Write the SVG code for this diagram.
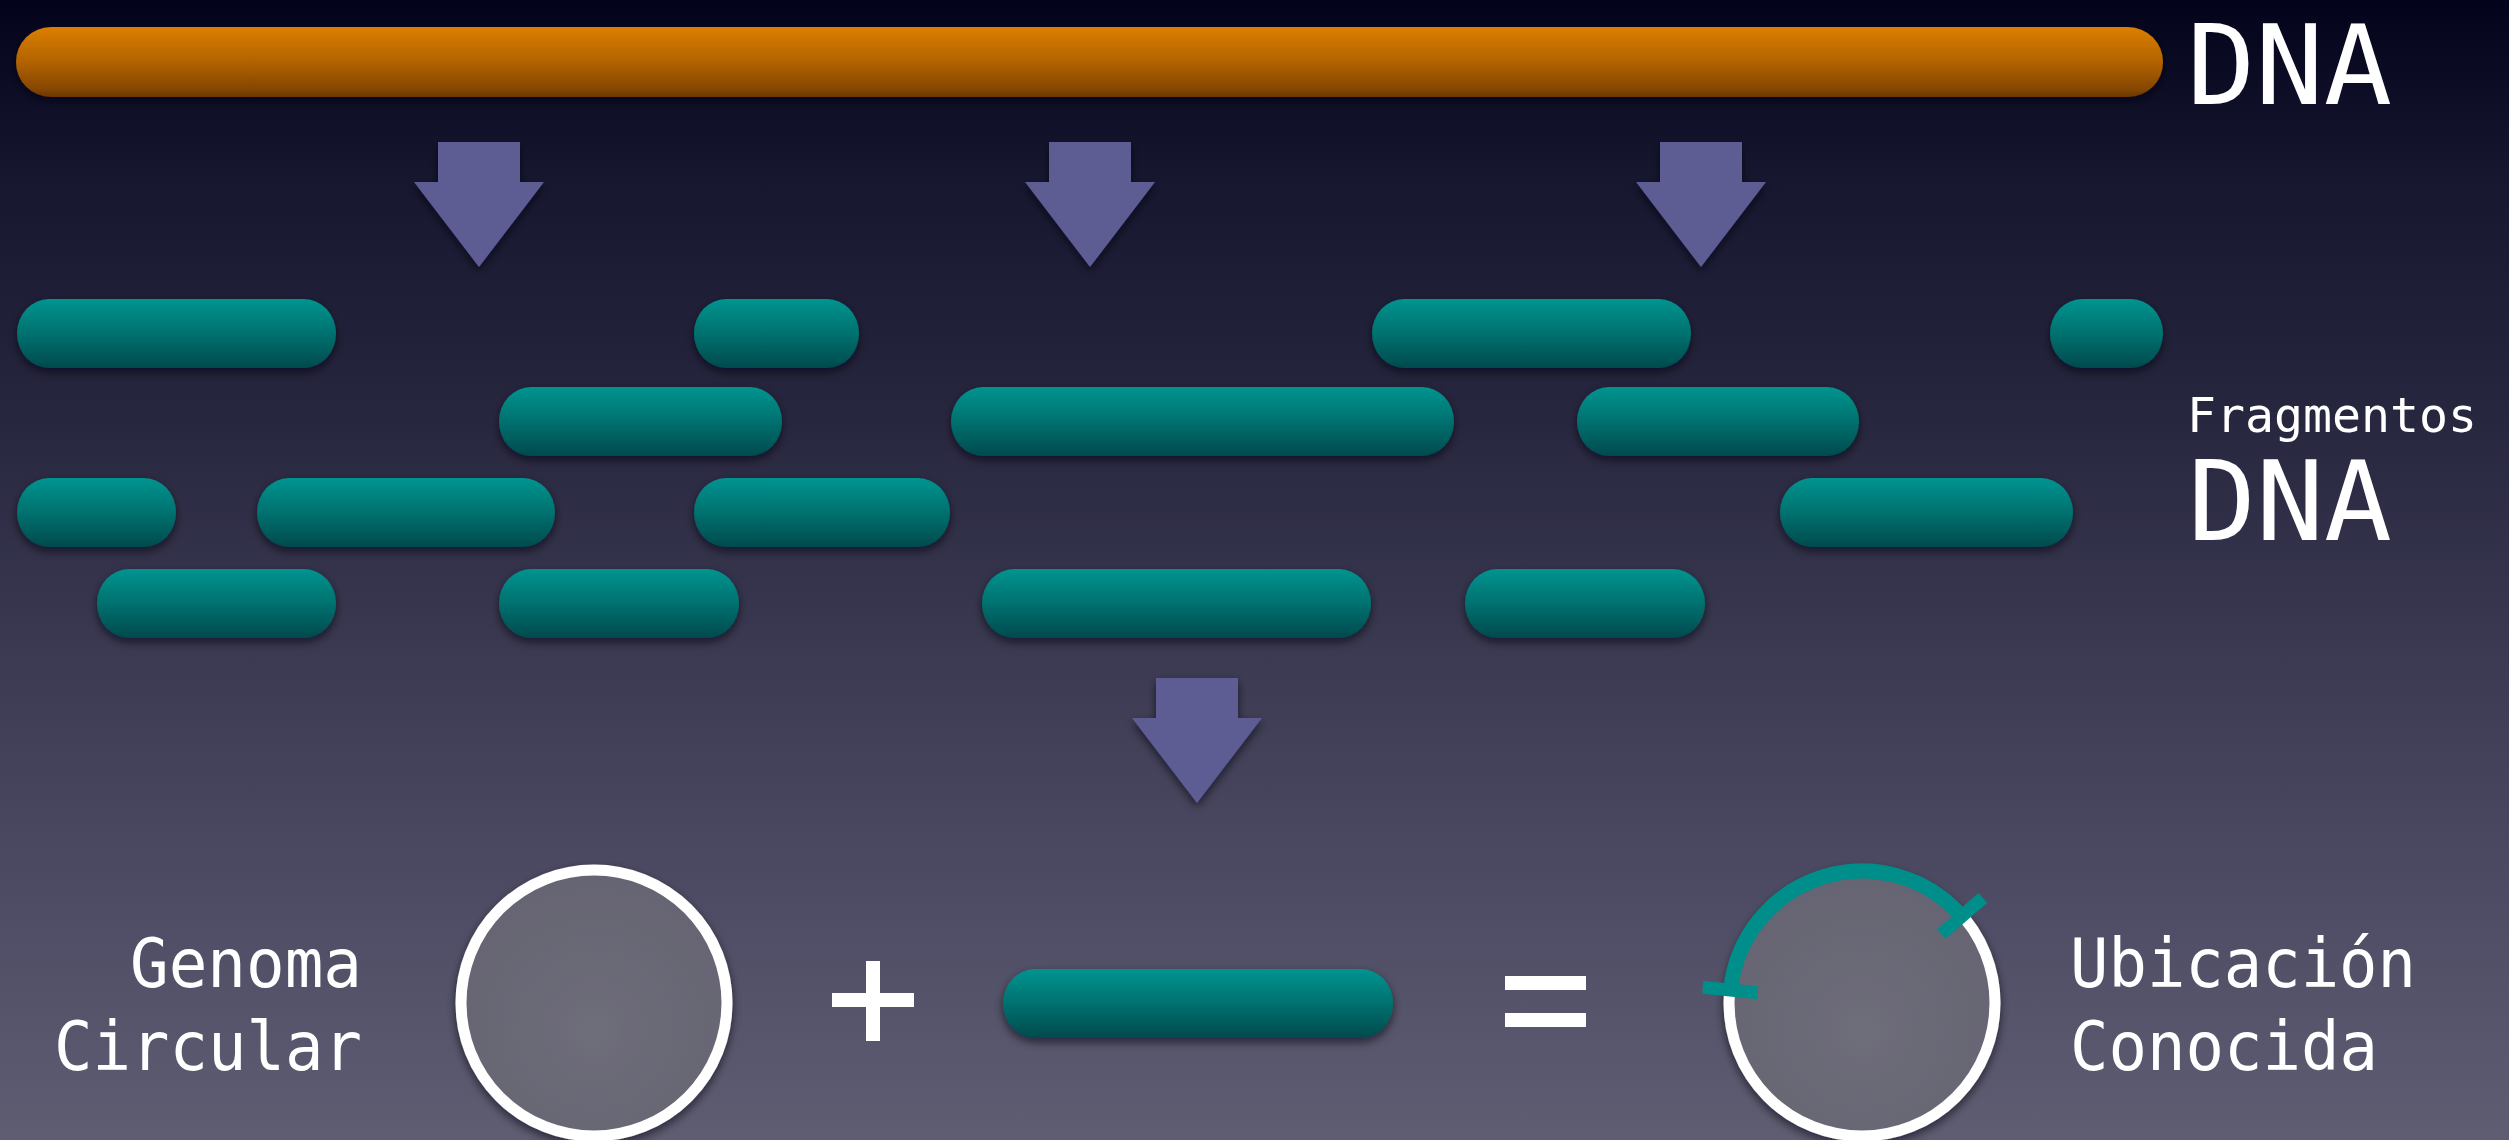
<svg xmlns="http://www.w3.org/2000/svg" xmlns:xlink="http://www.w3.org/1999/xlink" width="2509" height="1140" viewBox="0 0 2509 1140">
  <defs>
    <linearGradient id="bg" x1="0" y1="0" x2="0" y2="1">
      <stop offset="0" stop-color="#03031c"/>
      <stop offset="0.15" stop-color="#16162f"/>
      <stop offset="0.35" stop-color="#26253e"/>
      <stop offset="0.6" stop-color="#3d3c54"/>
      <stop offset="0.8" stop-color="#4e4d65"/>
      <stop offset="1" stop-color="#5e5d72"/>
    </linearGradient>
    <linearGradient id="orange" x1="0" y1="0" x2="0" y2="1">
      <stop offset="0" stop-color="#dc7e00"/>
      <stop offset="0.5" stop-color="#b26300"/>
      <stop offset="0.9" stop-color="#844500"/>
      <stop offset="1" stop-color="#6a3700"/>
    </linearGradient>
    <linearGradient id="teal" x1="0" y1="0" x2="0" y2="1">
      <stop offset="0" stop-color="#009490"/>
      <stop offset="0.5" stop-color="#00716f"/>
      <stop offset="1" stop-color="#004a4d"/>
    </linearGradient>
    <radialGradient id="disc" cx="0.5" cy="0.6" r="0.6">
      <stop offset="0" stop-color="#6e6d7a"/>
      <stop offset="1" stop-color="#656472"/>
    </radialGradient>
    <filter id="shadow" x="-20%" y="-40%" width="140%" height="200%">
      <feDropShadow dx="0" dy="4" stdDeviation="5" flood-color="#000010" flood-opacity="0.6"/>
    </filter>
    <path id="arrow" d="M -41 0 H 41 V 40 H 65 L 0 125 L -65 40 H -41 Z"/>
    <style>
      .frag { fill: url(#teal); filter: url(#shadow); }
      .arrow { fill: #5d5b93; filter: url(#shadow); }
      .lbl { fill: #ffffff; font-family: "DejaVu Sans Mono", "Liberation Mono", monospace; }
      .sym { fill: #ffffff; }
      .ring { fill: url(#disc); stroke: #ffffff; stroke-width: 11; filter: url(#shadow); }
      .loc { fill: none; stroke: #008e8a; }
    </style>
  </defs>

  <rect x="0" y="0" width="2509" height="1140" fill="url(#bg)"/>

  <g id="dna">
    <rect x="16" y="27" width="2147" height="70" rx="35" ry="35" fill="url(#orange)" filter="url(#shadow)"/>
    <text class="lbl" x="2187" y="104" font-size="110" textLength="205" lengthAdjust="spacingAndGlyphs">DNA</text>
  </g>

  <g id="connectors">
    <use href="#arrow" class="arrow" transform="translate(479,142)"/>
    <use href="#arrow" class="arrow" transform="translate(1090,142)"/>
    <use href="#arrow" class="arrow" transform="translate(1701,142)"/>
    <use href="#arrow" class="arrow" transform="translate(1197,678)"/>
  </g>

  <g id="fragments">
    <rect class="frag" x="17" y="299" width="319" height="69" rx="32" ry="34.5"/>
    <rect class="frag" x="694" y="299" width="165" height="69" rx="32" ry="34.5"/>
    <rect class="frag" x="1372" y="299" width="319" height="69" rx="32" ry="34.5"/>
    <rect class="frag" x="2050" y="299" width="113" height="69" rx="32" ry="34.5"/>

    <rect class="frag" x="499" y="387" width="283" height="69" rx="32" ry="34.5"/>
    <rect class="frag" x="951" y="387" width="503" height="69" rx="32" ry="34.5"/>
    <rect class="frag" x="1577" y="387" width="282" height="69" rx="32" ry="34.5"/>

    <rect class="frag" x="17" y="478" width="159" height="69" rx="32" ry="34.5"/>
    <rect class="frag" x="257" y="478" width="298" height="69" rx="32" ry="34.5"/>
    <rect class="frag" x="694" y="478" width="256" height="69" rx="32" ry="34.5"/>
    <rect class="frag" x="1780" y="478" width="293" height="69" rx="32" ry="34.5"/>

    <rect class="frag" x="97" y="569" width="239" height="69" rx="32" ry="34.5"/>
    <rect class="frag" x="499" y="569" width="240" height="69" rx="32" ry="34.5"/>
    <rect class="frag" x="982" y="569" width="389" height="69" rx="32" ry="34.5"/>
    <rect class="frag" x="1465" y="569" width="240" height="69" rx="32" ry="34.5"/>

    <text class="lbl" x="2187" y="432" font-size="48" textLength="290" lengthAdjust="spacingAndGlyphs">Fragmentos</text>
    <text class="lbl" x="2188" y="540" font-size="110" textLength="204" lengthAdjust="spacingAndGlyphs">DNA</text>
  </g>

  <g id="genoma">
    <text class="lbl" x="362" y="987" font-size="68" text-anchor="end" textLength="232" lengthAdjust="spacingAndGlyphs">Genoma</text>
    <text class="lbl" x="362" y="1070" font-size="68" text-anchor="end" textLength="308" lengthAdjust="spacingAndGlyphs">Circular</text>
    <circle class="ring" cx="594" cy="1003" r="133"/>
  </g>

  <g id="plus">
    <rect class="sym" x="866" y="961" width="14" height="80"/>
    <rect class="sym" x="832" y="993" width="82" height="14"/>
  </g>

  <g id="fragmento">
    <rect class="frag" x="1003" y="969" width="390" height="69" rx="32" ry="34.5"/>
  </g>

  <g id="igual">
    <rect class="sym" x="1505" y="976" width="81" height="14"/>
    <rect class="sym" x="1505" y="1013" width="81" height="14"/>
  </g>

  <g id="ubicacion">
    <circle class="ring" cx="1862" cy="1003" r="133"/>
    <path class="loc" stroke-width="15" d="M 1730.6 990.1 A 132 132 0 0 1 1961.6 916.4"/>
    <line class="loc" stroke-width="13" x1="1757.5" y1="992.8" x2="1702.8" y2="987.4"/>
    <line class="loc" stroke-width="13" x1="1941.2" y1="934.1" x2="1982.8" y2="898"/>
    <text class="lbl" x="2070" y="987" font-size="68" textLength="346" lengthAdjust="spacingAndGlyphs">Ubicación</text>
    <text class="lbl" x="2070" y="1070" font-size="68" textLength="308" lengthAdjust="spacingAndGlyphs">Conocida</text>
  </g>
</svg>
